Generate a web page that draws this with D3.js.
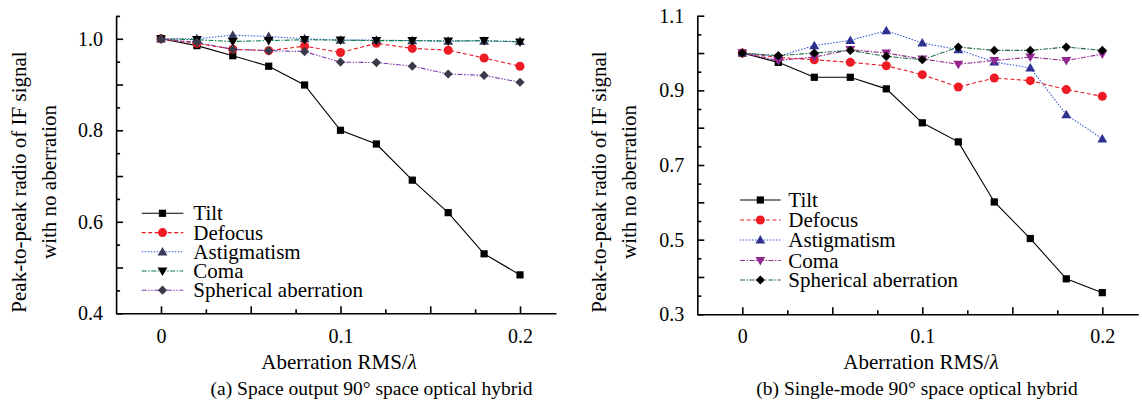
<!DOCTYPE html>
<html>
<head>
<meta charset="utf-8">
<script src="https://cdn.jsdelivr.net/npm/d3@7"></script>
<style>
  html, body { margin: 0; padding: 0; background: #fff; }
  svg, svg text { font-family: "Liberation Serif", "Times New Roman", serif !important; }
</style>
</head>
<body>
<svg id="chart" width="1142" height="407"></svg>
<script>
// Aberration RMS (in wavelengths) sampled for every curve
const aberration = [0, 0.02, 0.04, 0.06, 0.08, 0.10, 0.12, 0.14, 0.16, 0.18, 0.20];

const seriesNames = ["Tilt", "Defocus", "Astigmatism", "Coma", "Spherical aberration"];

// (a) Space output 90° space optical hybrid
const aTilt        = [1.000, 0.985, 0.963, 0.940, 0.899, 0.800, 0.770, 0.691, 0.620, 0.530, 0.484];
const aDefocus     = [1.000, 0.990, 0.977, 0.974, 0.984, 0.970, 0.990, 0.979, 0.975, 0.958, 0.940];
const aAstigmatism = [1.000, 1.000, 1.008, 1.005, 1.000, 0.997, 0.997, 0.996, 0.995, 0.995, 0.994];
const aComa        = [1.000, 0.998, 0.994, 0.996, 0.998, 0.997, 0.996, 0.996, 0.995, 0.996, 0.993];
const aSpherical   = [1.000, 0.992, 0.977, 0.974, 0.972, 0.949, 0.948, 0.940, 0.923, 0.920, 0.905];

// (b) Single-mode 90° space optical hybrid
const bTilt        = [1.000, 0.975, 0.935, 0.935, 0.904, 0.813, 0.762, 0.601, 0.503, 0.395, 0.358];
const bDefocus     = [1.000, 0.988, 0.982, 0.975, 0.966, 0.942, 0.909, 0.933, 0.926, 0.902, 0.884];
const bAstigmatism = [1.000, 0.991, 1.020, 1.034, 1.060, 1.027, 1.009, 0.976, 0.960, 0.835, 0.770];
const bComa        = [1.000, 0.980, 0.989, 1.009, 1.000, 0.984, 0.970, 0.980, 0.989, 0.980, 0.997];
const bSpherical   = [1.000, 0.993, 1.000, 1.007, 0.991, 0.982, 1.016, 1.007, 1.007, 1.016, 1.007];

// Axis ticks
const xMajorTicks = [0, 0.05, 0.10, 0.15, 0.20];
const xMinorTicks = [0.025, 0.075, 0.125, 0.175];
const xTickLabels = ["0", "", "0.1", "", "0.2"];
const aYMajorTicks = [0.4, 0.5, 0.6, 0.7, 0.8, 0.9, 1.0];
const aYTickLabels = ["0.4", "", "0.6", "", "0.8", "", "1.0"];
const aYMinorTicks = [0.45, 0.55, 0.65, 0.75, 0.85, 0.95, 1.05];
const bYMajorTicks = [0.3, 0.4, 0.5, 0.6, 0.7, 0.8, 0.9, 1.0, 1.1];
const bYTickLabels = ["0.3", "", "0.5", "", "0.7", "", "0.9", "", "1.1"];
const bYMinorTicks = [0.35, 0.45, 0.55, 0.65, 0.75, 0.85, 0.95, 1.05];

const xTitle = "Aberration RMS/";
const yTitle1 = "Peak-to-peak radio of IF signal";
const yTitle2 = "with no aberration";

const SERIF = '"Liberation Serif", "Times New Roman", serif';

// Marker shapes
const shapeSquare = { draw(ctx, s) { const h = Math.sqrt(s) / 2; ctx.rect(-h, -h, 2 * h, 2 * h); } };
const shapeCircle = { draw(ctx, s) { const r = Math.sqrt(s / Math.PI); ctx.moveTo(r, 0); ctx.arc(0, 0, r, 0, 2 * Math.PI); } };
const shapeTriUp = { draw(ctx, s) { const w = Math.sqrt(s); ctx.moveTo(0, -w * 0.55); ctx.lineTo(w * 0.55, w * 0.4); ctx.lineTo(-w * 0.55, w * 0.4); ctx.closePath(); } };
const shapeTriDown = { draw(ctx, s) { const w = Math.sqrt(s); ctx.moveTo(0, w * 0.55); ctx.lineTo(w * 0.55, -w * 0.4); ctx.lineTo(-w * 0.55, -w * 0.4); ctx.closePath(); } };
const shapeDiamond = { draw(ctx, s) { const h = Math.sqrt(s) / 2; ctx.moveTo(0, -h); ctx.lineTo(h, 0); ctx.lineTo(0, h); ctx.lineTo(-h, 0); ctx.closePath(); } };

const svg = d3.select("#chart").style("font-family", SERIF);

function drawPanel(p) {
  const x = d3.scaleLinear().domain([-0.025, 0.22]).range(p.xRange);
  const y = d3.scaleLinear().domain(p.yDomain).range(p.yRange);
  const g = svg.append("g");
  const x0 = p.xRange[0], yBase = p.yRange[0];

  // y axis: major + minor inward ticks
  const yMaj = g.append("g").attr("transform", `translate(${x0},0)`)
    .call(d3.axisLeft(y).tickValues(p.yMajor).tickSize(-7).tickSizeOuter(0).tickPadding(13)
      .tickFormat((d, i) => p.yLabels[i]));
  const yMin = g.append("g").attr("transform", `translate(${x0},0)`)
    .call(d3.axisLeft(y).tickValues(p.yMinor).tickSize(-4).tickSizeOuter(0).tickFormat(""));
  yMin.select(".domain").remove();

  // x axis
  const xMaj = g.append("g").attr("transform", `translate(0,${yBase})`)
    .call(d3.axisBottom(x).tickValues(xMajorTicks).tickSize(-7).tickSizeOuter(0)
      .tickFormat((d, i) => xTickLabels[i]));
  const xMin = g.append("g").attr("transform", `translate(0,${yBase})`)
    .call(d3.axisBottom(x).tickValues(xMinorTicks).tickSize(-4).tickSizeOuter(0).tickFormat(""));
  xMin.select(".domain").remove();

  [yMaj, yMin, xMaj, xMin].forEach(a => {
    a.attr("font-family", null).style("font-family", SERIF);
    a.selectAll("path, line").attr("stroke", "#000").attr("stroke-width", 1.6);
    a.selectAll("text").style("font-family", SERIF).attr("font-size", 20).attr("fill", "#000");
  });
  xMaj.selectAll("text").attr("y", 0).attr("dy", 0).attr("transform", `translate(0,${343 - yBase})`);

  // series
  const line = d3.line().x((d, i) => x(aberration[i])).y(d => y(d));
  p.series.forEach(s => {
    g.append("path").datum(s.values)
      .attr("d", line).attr("fill", "none")
      .attr("stroke", s.lineColor).attr("stroke-width", 1.1)
      .attr("stroke-dasharray", s.dash);
    g.append("g").selectAll("path").data(s.values).join("path")
      .attr("transform", (d, i) => `translate(${x(aberration[i])},${y(d)})`)
      .attr("d", d3.symbol().type(s.shape).size(s.size))
      .attr("fill", s.markerColor);
  });

  // legend
  const lg = g.append("g");
  p.series.forEach((s, i) => {
    const ry = p.legendRows[i];
    lg.append("line").attr("x1", p.legendX[0]).attr("x2", p.legendX[1])
      .attr("y1", ry).attr("y2", ry)
      .attr("stroke", s.lineColor).attr("stroke-width", 1.1).attr("stroke-dasharray", s.dash);
    lg.append("path")
      .attr("transform", `translate(${(p.legendX[0] + p.legendX[1]) / 2},${ry})`)
      .attr("d", d3.symbol().type(s.shape).size(s.size))
      .attr("fill", s.markerColor);
    lg.append("text").attr("x", p.legendTextX).attr("y", ry + 7)
      .style("font-family", SERIF).attr("font-size", 21).text(seriesNames[i]);
  });

  // axis titles
  g.append("text").attr("text-anchor", "middle").attr("font-size", 21).style("font-family", SERIF)
    .attr("transform", `translate(${p.yTitleX[0]},182) rotate(-90)`).text(yTitle1);
  g.append("text").attr("text-anchor", "middle").attr("font-size", 21).style("font-family", SERIF)
    .attr("transform", `translate(${p.yTitleX[1]},182) rotate(-90)`).text(yTitle2);
  const xt = g.append("text").attr("text-anchor", "middle").attr("font-size", 21)
    .style("font-family", SERIF).attr("x", p.xTitleX).attr("y", 369);
  xt.append("tspan").text(xTitle);
  xt.append("tspan").attr("font-style", "italic").text("λ");

  g.append("text").attr("text-anchor", "middle").attr("font-size", 19.5).style("font-family", SERIF)
    .attr("x", p.captionX).attr("y", 395).text(p.caption);
}

const red = "#ed1c24";

drawPanel({
  xRange: [116.1, 555.9],
  yDomain: [0.4, 1.05], yRange: [313.3, 15.9],
  yMajor: aYMajorTicks, yLabels: aYTickLabels, yMinor: aYMinorTicks,
  legendX: [141.7, 183.3], legendTextX: 193.3,
  legendRows: [213.3, 232.6, 251.8, 271.0, 290.2],
  yTitleX: [26, 56], xTitleX: 339, captionX: 371.5,
  caption: "(a) Space output 90° space optical hybrid",
  series: [
    { values: aTilt, lineColor: "#000", dash: null, shape: shapeSquare, size: 52, markerColor: "#000" },
    { values: aDefocus, lineColor: red, dash: "4,2.5", shape: shapeCircle, size: 64, markerColor: red },
    { values: aAstigmatism, lineColor: "#3b5bd0", dash: "1.5,1.5", shape: shapeTriUp, size: 80, markerColor: "#3a3a5c" },
    { values: aComa, lineColor: "#0a7a45", dash: "5,1.5,1.5,1.5", shape: shapeTriDown, size: 80, markerColor: "#000" },
    { values: aSpherical, lineColor: "#7a3fb0", dash: "5,1.5,1.5,1.5,1.5,1.5", shape: shapeDiamond, size: 85, markerColor: "#3a3a4c" }
  ]
});

drawPanel({
  xRange: [697.3, 1138.3],
  yDomain: [0.3, 1.1], yRange: [314.3, 15.7],
  yMajor: bYMajorTicks, yLabels: bYTickLabels, yMinor: bYMinorTicks,
  legendX: [740, 780.7], legendTextX: 788.3,
  legendRows: [200, 220, 240, 260.5, 280],
  yTitleX: [606, 636], xTitleX: 921, captionX: 917,
  caption: "(b) Single-mode 90° space optical hybrid",
  series: [
    { values: bTilt, lineColor: "#000", dash: null, shape: shapeSquare, size: 52, markerColor: "#000" },
    { values: bDefocus, lineColor: red, dash: "4,2.5", shape: shapeCircle, size: 64, markerColor: red },
    { values: bAstigmatism, lineColor: "#3b5bd0", dash: "1.5,1.5", shape: shapeTriUp, size: 80, markerColor: "#2e3192" },
    { values: bComa, lineColor: "#92278f", dash: "5,1.5,1.5,1.5", shape: shapeTriDown, size: 80, markerColor: "#92278f" },
    { values: bSpherical, lineColor: "#1f6b45", dash: "5,1.5,1.5,1.5", shape: shapeDiamond, size: 85, markerColor: "#000" }
  ]
});
</script>
</body>
</html>
